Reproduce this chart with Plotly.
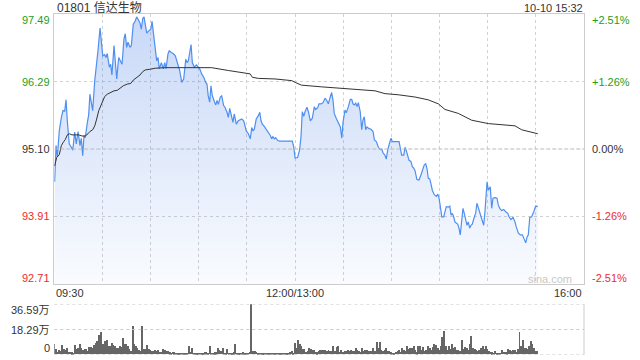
import plotly.graph_objects as go

# ---------------- data ----------------
stock_title = "01801 信达生物"
stamp = "10-10 15:32"
prev_close = 95.10

# minute offset from 09:30 (lunch break removed; 150 = 12:00/13:00), price
price_points = [
    (0.2, 94.52), (1.1, 95.16), (1.9, 94.96), (3.1, 95.42), (4.4, 95.66), (5.4, 95.78), (6.5, 95.77),
    (7.3, 95.97), (8.1, 95.60), (9.3, 95.19), (10.6, 95.13), (11.5, 95.08), (12.7, 95.40), (13.7, 95.19),
    (14.8, 95.41), (16.0, 95.16), (16.8, 95.29), (17.7, 94.98), (18.5, 95.34), (19.3, 95.30), (20.6, 95.57),
    (21.4, 95.70), (22.2, 96.07), (23.1, 95.90), (23.9, 95.78), (25.2, 96.31), (26.4, 96.60), (27.2, 96.84),
    (28.5, 97.24), (29.3, 96.93), (30.2, 96.75), (31.4, 96.77), (32.2, 96.72), (33.0, 96.79), (34.3, 96.55),
    (35.1, 96.60), (35.9, 96.41), (37.2, 96.93), (38.0, 96.60), (38.9, 96.34), (40.1, 96.72), (40.9, 96.68),
    (42.2, 96.60), (43.4, 97.05), (44.2, 97.14), (45.1, 96.90), (45.9, 96.99), (47.2, 96.90), (48.0, 96.93),
    (49.2, 97.31), (50.5, 97.37), (51.3, 97.44), (52.1, 97.39), (53.4, 97.33), (54.2, 97.22), (55.1, 97.41),
    (55.9, 97.44), (56.7, 97.27), (57.6, 97.15), (58.8, 97.19), (60.1, 97.22), (60.9, 97.36), (61.7, 97.16),
    (62.9, 96.93), (63.8, 96.66), (64.6, 96.72), (65.4, 96.52), (66.7, 96.63), (67.9, 96.52), (68.8, 96.63),
    (69.6, 96.52), (70.8, 96.78), (71.6, 96.84), (72.9, 96.81), (74.1, 96.79), (75.4, 96.75), (76.9, 96.62),
    (78.1, 96.49), (79.4, 96.28), (80.6, 96.34), (81.9, 96.69), (82.7, 96.63), (83.5, 96.66), (84.7, 96.84),
    (85.2, 96.95), (86.0, 96.63), (87.2, 96.55), (88.5, 96.59), (89.3, 96.56), (90.6, 96.52), (91.8, 96.43),
    (93.1, 96.37), (94.3, 96.28), (95.1, 96.25), (95.9, 96.04), (96.8, 95.93), (97.6, 96.22), (98.4, 96.05),
    (99.7, 95.94), (100.6, 95.88), (101.4, 95.96), (102.2, 95.89), (103.4, 96.02), (104.3, 96.04), (105.5, 95.87),
    (106.3, 95.84), (107.6, 95.75), (108.4, 95.66), (109.3, 95.82), (110.5, 95.66), (111.3, 95.57), (112.1, 95.72),
    (113.4, 95.54), (114.6, 95.60), (115.9, 95.61), (116.8, 95.63), (118.0, 95.60), (118.8, 95.51), (119.6, 95.42),
    (120.9, 95.37), (122.1, 95.28), (123.0, 95.48), (123.8, 95.42), (124.6, 95.45), (125.8, 95.63), (127.1, 95.69),
    (128.0, 95.75), (128.8, 95.60), (129.6, 95.54), (130.8, 95.50), (132.1, 95.45), (133.3, 95.39), (134.6, 95.34),
    (135.4, 95.28), (136.2, 95.32), (137.1, 95.28), (137.9, 95.30), (139.2, 95.25), (140.4, 95.24), (148.3, 95.24),
    (149.2, 95.13), (150.0, 94.94), (151.6, 94.95), (152.8, 95.08), (153.7, 95.32), (154.5, 95.76), (155.4, 95.68),
    (156.2, 95.76), (157.4, 95.84), (158.3, 95.76), (159.5, 95.60), (160.7, 95.64), (162.0, 95.85), (162.8, 95.80),
    (164.1, 95.83), (164.9, 95.90), (166.2, 95.90), (167.4, 95.92), (168.7, 96.00), (169.9, 95.95), (170.7, 95.90),
    (172.0, 96.03), (172.8, 96.10), (173.6, 95.97), (174.4, 95.73), (175.7, 95.64), (176.9, 95.58), (178.2, 95.49),
    (179.1, 95.29), (179.9, 95.58), (181.1, 95.79), (181.9, 95.74), (183.2, 95.85), (184.4, 95.98), (185.3, 95.98),
    (186.1, 95.90), (186.9, 95.88), (187.8, 95.91), (188.6, 95.85), (189.4, 95.92), (190.6, 95.76), (191.5, 95.44),
    (192.3, 95.61), (193.1, 95.67), (194.0, 95.44), (194.8, 95.49), (196.1, 95.46), (197.3, 95.45), (198.6, 95.41),
    (199.4, 95.26), (200.6, 95.23), (201.9, 95.13), (203.1, 95.09), (204.0, 95.10), (204.8, 95.03), (206.0, 94.99),
    (206.8, 94.92), (207.7, 95.08), (208.9, 95.21), (209.8, 95.29), (210.6, 95.23), (214.8, 95.23), (215.6, 95.11),
    (216.4, 94.99), (217.7, 94.99), (218.5, 95.13), (219.3, 95.07), (220.2, 94.99), (221.0, 94.90), (222.2, 94.88),
    (223.0, 94.79), (223.9, 94.76), (224.7, 94.72), (225.9, 94.56), (227.2, 94.55), (228.4, 94.64), (229.3, 94.73),
    (230.5, 94.82), (231.4, 94.84), (232.2, 94.75), (233.0, 94.58), (233.9, 94.57), (234.7, 94.48), (235.5, 94.37),
    (236.7, 94.29), (238.0, 94.26), (238.9, 94.30), (239.7, 94.23), (240.5, 94.08), (241.4, 93.90), (242.6, 93.90),
    (243.4, 94.02), (244.2, 94.08), (245.5, 94.07), (246.4, 94.09), (247.2, 93.93), (248.0, 93.96), (248.8, 93.90),
    (249.6, 93.81), (250.4, 93.79), (251.3, 93.77), (252.1, 93.70), (252.9, 93.58), (253.8, 93.83), (254.6, 94.05),
    (255.4, 93.96), (256.3, 93.83), (257.1, 93.75), (257.9, 93.81), (258.8, 93.70), (259.6, 93.75), (260.4, 93.77),
    (261.7, 93.90), (262.5, 93.96), (263.3, 94.14), (264.2, 94.05), (265.4, 93.96), (266.7, 93.83), (267.5, 93.75),
    (268.3, 93.99), (269.2, 94.29), (269.6, 94.52), (270.4, 94.37), (271.6, 94.43), (272.5, 94.05), (273.3, 94.23),
    (274.6, 94.24), (275.8, 94.23), (276.6, 94.11), (277.5, 94.05), (278.7, 94.01), (280.0, 94.03), (281.2, 93.99),
    (282.5, 93.96), (283.3, 93.90), (284.5, 93.85), (285.8, 93.89), (287.0, 93.81), (287.8, 93.72), (289.1, 93.61),
    (290.3, 93.58), (291.6, 93.58), (292.8, 93.50), (293.7, 93.44), (294.5, 93.54), (295.3, 93.58), (296.2, 93.89),
    (297.4, 93.90), (298.7, 93.99), (299.9, 94.09), (301.2, 94.08),
]

avg_points = [
    (0.2, 94.80), (1.5, 94.95), (3.1, 95.00), (4.4, 95.16), (5.6, 95.22), (6.9, 95.27), (8.1, 95.35),
    (9.3, 95.37), (11.0, 95.35), (13.1, 95.35), (15.2, 95.35), (17.3, 95.33), (19.3, 95.33), (21.0, 95.37),
    (22.2, 95.41), (23.9, 95.44), (25.2, 95.51), (26.4, 95.63), (27.7, 95.78), (28.9, 95.86), (30.2, 95.97),
    (31.4, 96.03), (33.0, 96.07), (35.1, 96.10), (37.2, 96.13), (39.3, 96.14), (40.9, 96.18), (43.0, 96.22),
    (45.5, 96.25), (47.6, 96.26), (49.2, 96.32), (51.3, 96.37), (53.4, 96.41), (55.1, 96.47), (56.7, 96.50),
    (59.2, 96.51), (62.9, 96.53), (69.2, 96.54), (79.6, 96.54), (90.6, 96.55), (98.0, 96.54), (108.4, 96.49),
    (116.8, 96.46), (122.0, 96.43), (123.4, 96.37), (127.1, 96.35), (137.5, 96.34), (148.0, 96.31),
    (150.0, 96.28), (152.0, 96.25), (154.0, 96.23), (166.6, 96.20), (179.1, 96.17), (191.5, 96.15),
    (199.8, 96.13), (206.0, 96.08), (214.3, 96.06), (224.7, 96.02), (233.0, 95.97), (239.2, 95.90),
    (243.4, 95.80), (251.7, 95.73), (260.0, 95.61), (270.4, 95.55), (287.0, 95.51), (291.2, 95.44),
    (301.2, 95.37),
]

# volume per minute, in 万 shares
vol_am = [
    7.2, 3.6, 1.9, 2.9, 2.4, 6.7, 3.6, 2.9, 4.3, 1.9,
    1.9, 1.4, 1.2, 6.7, 3.6, 4.3, 7.2, 4.3, 3.4, 3.8,
    3.8, 2.4, 5.3, 5.3, 4.8, 6.7, 8.4, 9.6, 13.9, 16.3,
    7.2, 7.2, 9.6, 10.8, 6.0, 6.0, 8.4, 6.7, 6.0, 4.8,
    4.8, 6.0, 5.3, 12.0, 7.2, 7.2, 6.0, 3.6, 2.4, 20.4,
    7.2, 6.0, 4.8, 2.9, 2.4, 20.4, 3.6, 3.6, 6.7, 3.6,
    2.9, 2.4, 2.4, 2.9, 2.4, 2.9, 1.9, 1.9, 3.6, 2.9,
    2.4, 2.4, 1.4, 1.0, 1.9, 1.4, 1.0, 1.2, 0.7, 1.0,
    0.7, 0.5, 0.7, 1.2, 6.0, 1.9, 4.8, 1.2, 1.0, 0.7,
    0.7, 1.0, 1.2, 1.0, 1.4, 1.4, 1.2, 6.0, 1.2, 1.0,
    1.4, 1.4, 4.8, 2.9, 2.4, 4.3, 1.2, 1.2, 3.6, 1.2,
    1.2, 1.0, 1.4, 7.2, 1.0, 1.2, 1.2, 1.0, 1.4, 1.2,
    1.2, 1.2, 1.9, 36.5, 2.4, 2.4, 1.9, 1.0, 0.7, 0.7,
    0.7, 0.5, 0.7, 0.7, 0.7, 0.5, 0.7, 0.5, 0.7, 0.7,
    0.5, 0.7, 1.0, 0.7, 0.7, 0.7, 1.0, 1.4, 2.4, 1.2,
]
vol_pm = [
    8.4, 4.8, 10.8, 7.2, 6.0, 3.6, 3.6, 1.9, 2.4, 4.3,
    3.6, 2.9, 2.9, 1.9, 1.4, 2.4, 2.9, 2.9, 2.9, 3.4,
    2.4, 3.4, 2.4, 2.4, 6.0, 2.4, 5.3, 6.0, 1.9, 3.4,
    1.9, 2.4, 2.4, 3.4, 2.4, 2.9, 2.4, 2.4, 4.8, 2.9,
    2.4, 1.9, 4.8, 2.4, 2.9, 2.9, 2.4, 2.4, 2.4, 4.3,
    2.4, 9.1, 4.3, 9.1, 2.9, 2.4, 3.4, 4.3, 2.4, 2.4,
    1.4, 1.0, 0.5, 1.5, 2.4, 3.4, 1.9, 4.3, 2.9, 2.4,
    6.0, 3.6, 4.3, 4.8, 6.0, 2.9, 1.4, 6.0, 6.0, 2.9,
    5.3, 2.4, 3.4, 6.0, 4.8, 3.4, 5.3, 7.7, 6.7, 4.3,
    3.4, 6.0, 12.5, 16.8, 6.0, 2.9, 6.0, 3.8, 7.2, 4.8,
    5.3, 3.4, 3.4, 2.4, 10.8, 3.6, 5.3, 4.3, 3.4, 7.2,
    13.2, 4.8, 3.6, 2.9, 2.4, 2.9, 4.3, 6.0, 3.6, 6.0,
    3.6, 2.4, 1.9, 1.4, 1.2, 2.4, 1.2, 1.0, 1.0, 2.9,
    1.9, 1.9, 1.4, 3.6, 2.9, 2.4, 3.4, 2.9, 1.9, 3.6,
    16.3, 6.0, 10.8, 4.8, 4.3, 3.6, 6.0, 10.0, 7.2, 4.8,
    2.4, 2.4,
]

price_ticks = [97.49, 96.29, 95.10, 93.91, 92.71]
pct_labels = ["+2.51%", "+1.26%", "0.00%", "-1.26%", "-2.51%"]
vol_ticks = [36.59, 18.29, 0]
vol_labels = ["36.59万", "18.29万", "0"]
time_labels = ["09:30", "12:00/13:00", "16:00"]
time_positions = [0, 150, 330]
grid_minutes = [30, 60, 90, 120, 150, 180, 210, 240, 270, 300]

# ---------------- style ----------------
W, H = 640, 360
FONT = "Arial, 'Liberation Sans', 'Noto Sans CJK SC', sans-serif"
GREEN = "#1c9e1c"
RED = "#ee2b2b"
DARK = "#333333"
X0, X1 = 54.3, 584.0
TOP_Y0, TOP_Y1 = 14.0, 284.0
VOL_Y0, VOL_Y1 = 304.3, 354.7


def px(x):
    return x / W


def py(y):
    return 1 - y / H


pt = [p[0] for p in price_points]
pv = [p[1] for p in price_points]
at = [p[0] for p in avg_points]
av = [p[1] for p in avg_points]
vol_x = list(range(len(vol_am))) + list(range(150, 150 + len(vol_pm)))
vol_y = vol_am + vol_pm

fig = go.Figure()
fig.add_trace(go.Scatter(
    x=pt, y=pv, mode="lines", line=dict(color="#4f8ff0", width=1.2),
    fill="tozeroy",
    fillgradient=dict(type="vertical", start=price_ticks[-1], stop=price_ticks[0],
                      colorscale=[[0, "rgba(70,125,230,0.03)"], [1, "rgba(70,125,230,0.30)"]]),
    xaxis="x", yaxis="y", showlegend=False, hoverinfo="skip",
))
fig.add_trace(go.Scatter(
    x=at, y=av, mode="lines", line=dict(color="#333333", width=1),
    xaxis="x", yaxis="y", showlegend=False, hoverinfo="skip",
))
fig.add_trace(go.Bar(
    x=vol_x, y=vol_y, width=0.6, marker=dict(color="#666666", line=dict(width=0)),
    xaxis="x2", yaxis="y2", showlegend=False, hoverinfo="skip",
))

shapes = []
# prev close dashed line
shapes.append(dict(type="line", xref="x", yref="y", x0=0, x1=330, y0=prev_close, y1=prev_close,
                   line=dict(color="#b8b8b8", width=1, dash="4px,2px"), layer="above"))
# volume panel grid lines
for v in vol_ticks:
    shapes.append(dict(type="line", xref="paper", yref="y2", x0=px(X0), x1=px(X1), y0=v, y1=v,
                       line=dict(color="#cccccc", width=1, dash="dot")))
shapes.append(dict(type="line", xref="paper", yref="paper", x0=px(X1), x1=px(X1),
                   y0=py(VOL_Y1), y1=py(VOL_Y0), line=dict(color="#cccccc", width=1)))

annotations = []
colors = [GREEN, GREEN, DARK, RED, RED]
shifts = [-6, 0, 0, 0, 6.5]
for val, pl, c, s in zip(price_ticks, pct_labels, colors, shifts):
    annotations.append(dict(text=f"{val:.2f}", xref="paper", yref="y", x=px(51.5), y=val, yshift=s,
                            xanchor="right", yanchor="middle", showarrow=False,
                            font=dict(family=FONT, size=11, color=c)))
    annotations.append(dict(text=pl, xref="paper", yref="y", x=px(589.5), y=val, yshift=s,
                            xanchor="left", yanchor="middle", showarrow=False,
                            font=dict(family=FONT, size=11, color=c)))
vshifts = [-6, 0, 6.5]
for v, lbl, s in zip(vol_ticks, vol_labels, vshifts):
    annotations.append(dict(text=lbl, xref="paper", yref="y2", x=px(51.5), y=v, yshift=s,
                            xanchor="right", yanchor="middle", showarrow=False,
                            font=dict(family=FONT, size=11, color=DARK)))
anchors = ["left", "center", "right"]
for lbl, pos, a in zip(time_labels, time_positions, anchors):
    annotations.append(dict(text=lbl, xref="x", yref="paper", x=pos, y=py(293.3),
                            xanchor=a, yanchor="middle", showarrow=False,
                            font=dict(family=FONT, size=11, color=DARK)))
annotations.append(dict(text=stock_title, xref="paper", yref="paper", x=px(54.5), y=py(7.5),
                        xanchor="left", yanchor="middle", showarrow=False,
                        font=dict(family=FONT, size=12, color=DARK)))
annotations.append(dict(text=stamp, xref="paper", yref="paper", x=px(584.5), y=py(7.5),
                        xanchor="right", yanchor="middle", showarrow=False,
                        font=dict(family=FONT, size=11, color=DARK)))
annotations.append(dict(text="sina.com", xref="paper", yref="paper", x=px(573.5), y=py(279),
                        xanchor="right", yanchor="middle", showarrow=False,
                        font=dict(family=FONT, size=11, color="#c8c8c8")))

fig.update_layout(
    width=W, height=H, margin=dict(l=0, r=0, t=0, b=0),
    paper_bgcolor="white", plot_bgcolor="rgba(0,0,0,0)",
    showlegend=False, bargap=0,
    xaxis=dict(domain=[px(X0), px(X1)], range=[0, 330], anchor="y",
               tickvals=grid_minutes, showticklabels=False, ticks="",
               showgrid=True, gridcolor="#d2d2d2", griddash="dot", gridwidth=1,
               showline=True, mirror=True, linecolor="#cccccc", linewidth=1,
               zeroline=False, fixedrange=True),
    yaxis=dict(domain=[py(TOP_Y1), py(TOP_Y0)], range=[price_ticks[-1], price_ticks[0]], anchor="x",
               tickvals=[price_ticks[1], price_ticks[3]], showticklabels=False, ticks="",
               showgrid=True, gridcolor="#d2d2d2", griddash="dot", gridwidth=1,
               showline=True, mirror=True, linecolor="#cccccc", linewidth=1,
               zeroline=False, fixedrange=True),
    xaxis2=dict(domain=[px(X0), px(X1)], range=[0, 330], anchor="y2",
                showticklabels=False, ticks="", showgrid=False, showline=False,
                zeroline=False, fixedrange=True),
    yaxis2=dict(domain=[py(VOL_Y1), py(VOL_Y0)], range=[0, vol_ticks[0]], anchor="x2",
                showticklabels=False, ticks="", showgrid=False, showline=False,
                zeroline=False, fixedrange=True),
    shapes=shapes, annotations=annotations,
)

fig.write_html("out.html")
